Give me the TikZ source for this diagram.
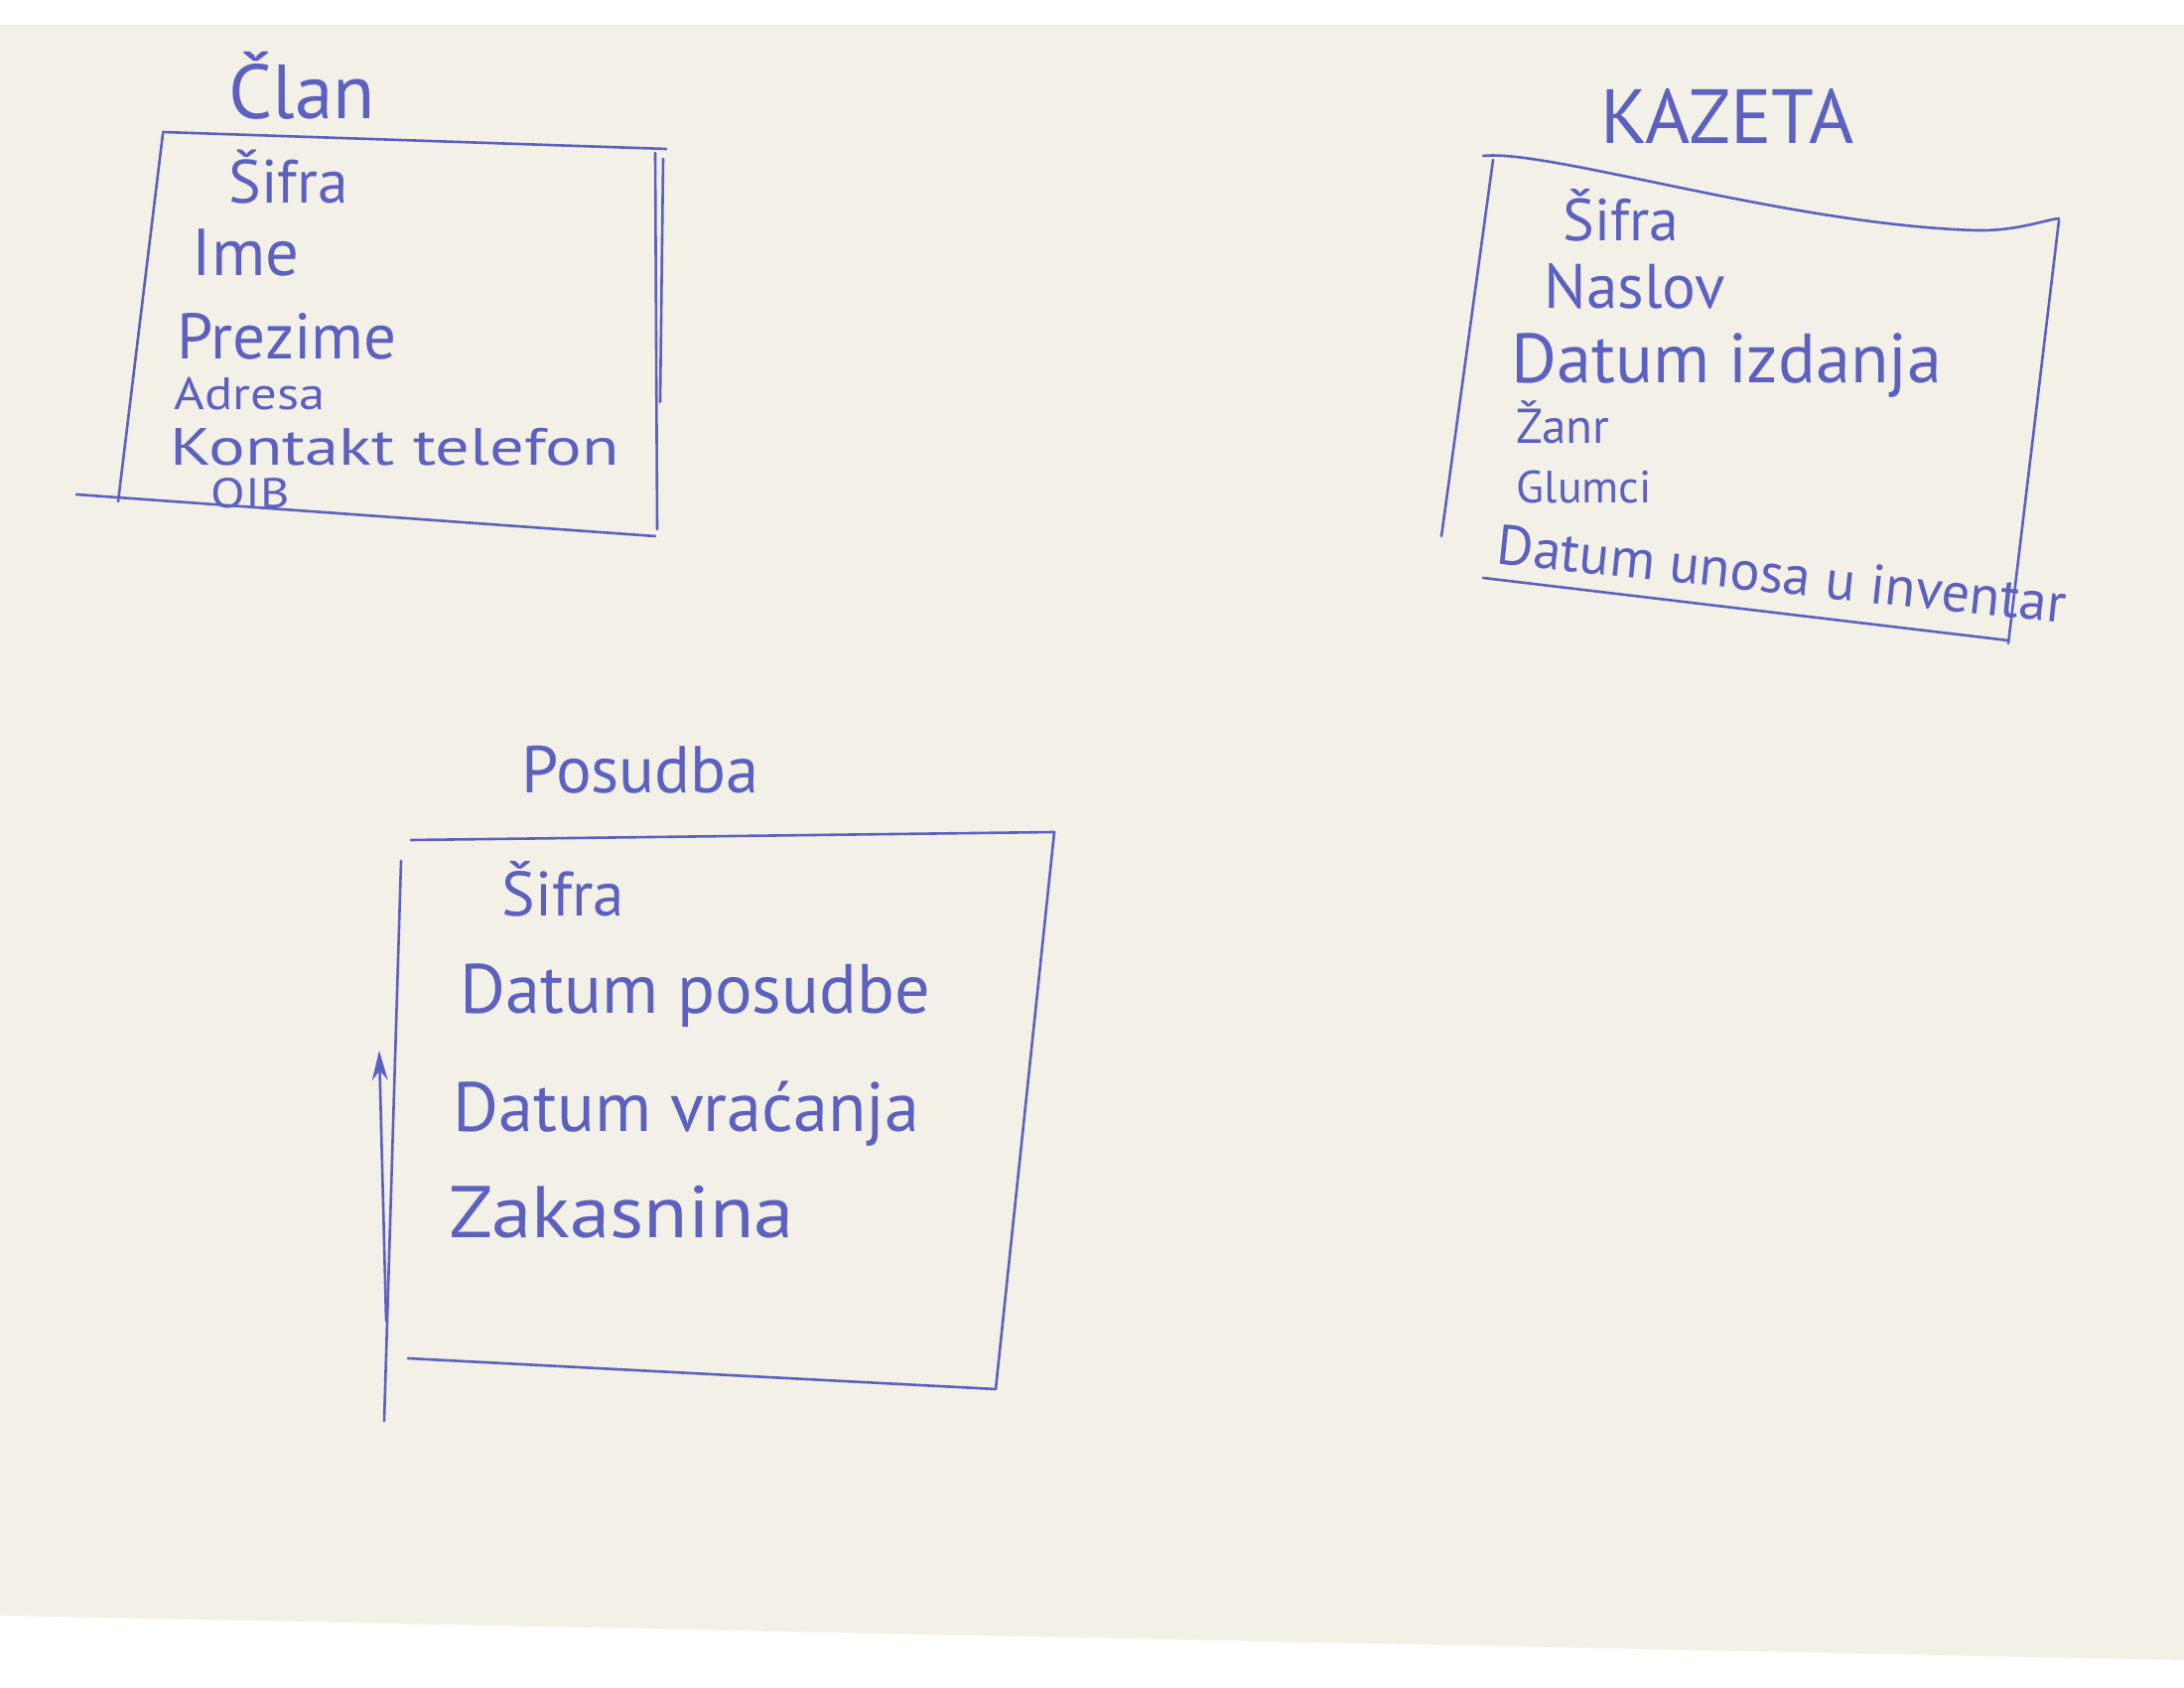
\documentclass[tikz,border=0pt]{standalone}
\usepackage{fontspec}
\setmainfont{PT Sans}
\usetikzlibrary{arrows.meta}
\definecolor{paper}{RGB}{243,240,231}
\definecolor{ink}{RGB}{92,96,190}
\tikzset{
  pen/.style={draw=ink, line width=0.26mm, line cap=round, line join=round},
  hw/.style={text=ink, anchor=west, inner sep=0pt},
  ttl/.style={text=ink, anchor=center, inner sep=0pt},
}
\newcommand{\fs}[1]{\fontsize{#1}{#1}\selectfont}
\begin{document}
\begin{tikzpicture}[x=0.1mm, y=-0.1mm]
\useasboundingbox (0,0) rectangle (2200,1700);
\fill[white] (0,0) rectangle (2200,1700);
\fill[paper] (0,25) -- (2200,25) -- (2200,1672) -- (0,1627) -- cycle;

% ---- Clan ----
\node[ttl, font=\fs{22}] (clanT) at (304,86) {Član};
\draw[pen] (164,133) -- (671,150);
\draw[pen] (660,154) -- (662,533);
\draw[pen] (668,160) -- (665,405);
\draw[pen] (164,135) -- (119,505);
\draw[pen] (77,498) -- (660,540);
\node[hw, font=\fs{17.5}] (c1) at (230,178) {Šifra};
\node[hw, font=\fs{19}] (c2) at (193,255) {Ime};
\node[hw, font=\fs{18.5}] (c3) at (178,339) {Prezime};
\node[hw, font=\fs{13}] (c4) at (175,397) {\scalebox{1.15}[1]{Adresa}};
\node[hw, font=\fs{15}] (c5) at (171,450) {\scalebox{1.3}[1]{Kontakt telefon}};
\node[hw, font=\fs{12}] (c6) at (212,497) {\scalebox{1.2}[1]{OIB}};

% ---- KAZETA ----
\node[ttl, font=\fs{22}] (kazT) at (1740,117) {KAZETA};
\draw[pen] (1494,157) .. controls (1560,150) and (1800,226) .. (1990,232)
           .. controls (2030,233) and (2058,222) .. (2074,220);
\draw[pen] (2074,222) -- (2023,648);
\draw[pen] (1504,161) -- (1452,540);
\draw[pen] (1494,582) -- (2023,645);
\node[hw, font=\fs{17}] (k1) at (1574,217) {Šifra};
\node[hw, font=\fs{18}] (k2) at (1555,288) {Naslov};
\node[hw, font=\fs{20}] (k3) at (1522,368) {Datum izdanja};
\node[hw, font=\fs{14}] (k4) at (1527,425) {Žanr};
\node[hw, font=\fs{13}] (k5) at (1527,491) {Glumci};
\node[hw, font=\fs{16}, rotate=-6] (k6) at (1508,548) {Datum unosa u inventar};

% ---- Posudba ----
\node[ttl, font=\fs{19}] (posT) at (645,775) {Posudba};
\draw[pen] (414,846) -- (1062,838);
\draw[pen] (1062,838) -- (1003,1399);
\draw[pen] (404,867) -- (387,1431);
\draw[pen] (411,1368) -- (1003,1399);
\coordinate (arB) at (389,1330);
\coordinate (arT) at (382,1058);
\draw[pen, -{Stealth[length=3mm,width=1.6mm]}] (arB) -- (arT);
\node[hw, font=\fs{18}] (p1) at (505,895) {Šifra};
\node[hw, font=\fs{20}] (p2) at (463,1003) {Datum posudbe};
\node[hw, font=\fs{20}] (p3) at (456,1122) {Datum vraćanja};
\node[hw, font=\fs{21}] (p4) at (452,1221) {\scalebox{1.1}[1]{Zakasnina}};
\end{tikzpicture}
\end{document}
